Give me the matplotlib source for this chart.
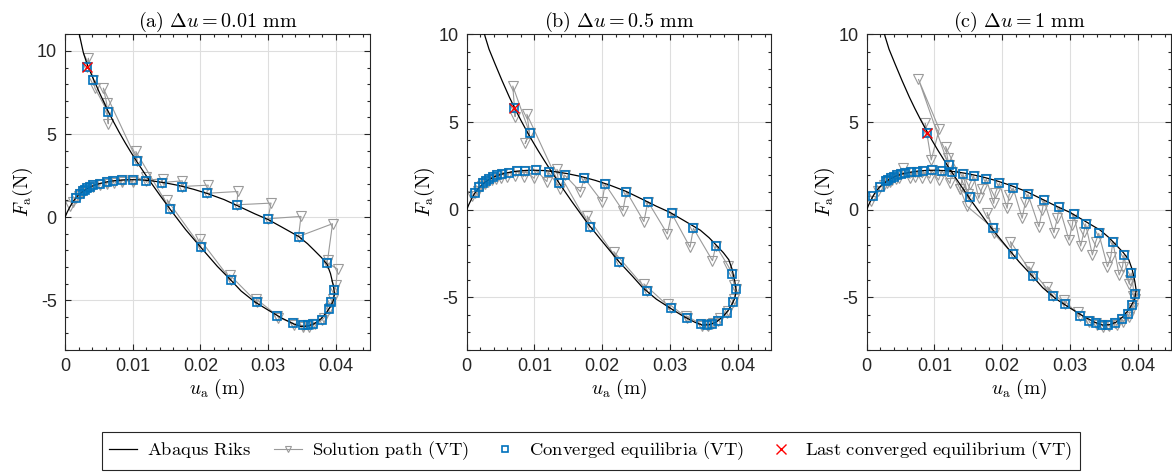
import numpy as np
import matplotlib
matplotlib.use("Agg")
import matplotlib.pyplot as plt
from matplotlib.lines import Line2D
from matplotlib.ticker import MultipleLocator

plt.rcParams['mathtext.fontset'] = 'cm'
plt.rcParams['axes.unicode_minus'] = False

# Abaqus Riks reference curve (u in m, F in N)
riks_u = [0, 0.0003, 0.0007, 0.0012, 0.0018, 0.0025, 0.0033, 0.0042, 0.0052, 0.0063,
          0.0075, 0.0088, 0.0100, 0.0115, 0.0130, 0.0148, 0.0168, 0.0190, 0.0210, 0.0235,
          0.0258, 0.0280, 0.0300, 0.0320, 0.0345, 0.0358, 0.0368, 0.0379, 0.0387, 0.0392,
          0.0396, 0.0398, 0.0396, 0.0392, 0.0386, 0.0378, 0.0368, 0.0358, 0.0348, 0.0337,
          0.0320, 0.0300, 0.0280, 0.0260, 0.0245, 0.0225, 0.0200, 0.0178, 0.0155, 0.0140,
          0.0125, 0.0115, 0.0105, 0.0097, 0.0089, 0.0080, 0.0071, 0.0063, 0.0052, 0.0042,
          0.0033, 0.0027, 0.0020]
riks_F = [0, 0.28, 0.60, 0.95, 1.25, 1.50, 1.72, 1.90, 2.03, 2.13,
          2.20, 2.24, 2.25, 2.23, 2.17, 2.06, 1.90, 1.67, 1.42, 1.05,
          0.62, 0.20, -0.15, -0.60, -1.17, -1.60, -2.00, -2.45, -2.85, -3.40,
          -4.10, -4.60, -5.05, -5.38, -5.75, -6.12, -6.42, -6.56, -6.58, -6.42,
          -6.08, -5.60, -5.10, -4.45, -3.80, -2.97, -1.80, -0.75, 0.48, 1.32,
          2.18, 2.78, 3.40, 3.92, 4.46, 5.10, 5.78, 6.42, 7.38, 8.30,
          9.15, 9.90, 11.20]

# (a) du = 0.01 mm
conv_u_a = [0.00162, 0.00220, 0.00270, 0.00300, 0.00330, 0.00365, 0.00417, 0.00515, 0.00614,
            0.00712, 0.00835, 0.00997, 0.01193, 0.01429, 0.01728, 0.02093, 0.02538, 0.02997,
            0.03448, 0.03868, 0.03973, 0.03932, 0.03893, 0.03795, 0.03662, 0.03584, 0.03510,
            0.03368, 0.03137, 0.02833, 0.02445, 0.02005, 0.01546, 0.01065, 0.00629, 0.00417,
            0.00329]
conv_F_a = [1.12, 1.40, 1.55, 1.64, 1.72, 1.80, 1.92, 2.02, 2.10,
            2.18, 2.24, 2.25, 2.20, 2.08, 1.84, 1.43, 0.74, -0.10,
            -1.17, -2.74, -4.37, -5.11, -5.55, -6.18, -6.46, -6.52, -6.52,
            -6.38, -5.94, -5.13, -3.77, -1.78, 0.50, 3.39, 6.33, 8.26,
            9.06]
path_u_a = [0.00074, 0.00123, 0.00162, 0.00200, 0.00220, 0.00260, 0.00270, 0.00300, 0.00330,
            0.00365, 0.00420, 0.00417, 0.00520, 0.00515, 0.00620, 0.00614, 0.00720, 0.00712,
            0.00840, 0.00835, 0.01000, 0.00997, 0.01202, 0.01193, 0.01447, 0.01429, 0.01732,
            0.01728, 0.02115, 0.02093, 0.02552, 0.02538, 0.03042, 0.02997, 0.03484, 0.03448,
            0.03950, 0.03878, 0.03868, 0.04024, 0.04001, 0.03973, 0.03960, 0.03932, 0.03915,
            0.03893, 0.03830, 0.03795, 0.03690, 0.03662, 0.03600, 0.03584, 0.03520, 0.03510,
            0.03380, 0.03368, 0.03150, 0.03137, 0.02823, 0.02833, 0.02430, 0.02445, 0.01988,
            0.02005, 0.01507, 0.01546, 0.01046, 0.01065, 0.00565, 0.00614, 0.00638, 0.00629,
            0.00442, 0.00417, 0.00344, 0.00329]
path_F_a = [0.64, 0.88, 1.12, 1.25, 1.40, 1.45, 1.55, 1.64, 1.72,
            1.80, 1.80, 1.92, 1.92, 2.02, 2.00, 2.10, 2.06, 2.18,
            2.12, 2.24, 2.12, 2.25, 2.40, 2.20, 2.32, 2.08, 2.18,
            1.84, 1.92, 1.43, 1.54, 0.74, 0.84, -0.10, 0.04, -1.17,
            -0.40, -2.57, -2.74, -3.13, -4.07, -4.37, -4.95, -5.11, -5.45,
            -5.55, -6.05, -6.18, -6.45, -6.46, -6.62, -6.52, -6.62, -6.52,
            -6.50, -6.38, -6.05, -5.94, -4.93, -5.13, -3.47, -3.77, -1.32,
            -1.78, 1.04, 0.50, 3.95, 3.39, 7.76, 6.86, 5.61, 6.33,
            7.76, 8.26, 9.56, 9.06]

# (b) du = 0.5 mm
conv_u_b = [0.00123, 0.00187, 0.00237, 0.00286, 0.00335, 0.00385, 0.00444, 0.00519, 0.00631,
            0.00741, 0.00864, 0.01027, 0.01209, 0.01446, 0.01738, 0.02044, 0.02360, 0.02676,
            0.03027, 0.03348, 0.03679, 0.03920, 0.03975, 0.03926, 0.03842, 0.03718, 0.03630,
            0.03556, 0.03456, 0.03259, 0.03012, 0.02667, 0.02246, 0.01816, 0.01357, 0.00928,
            0.00705]
conv_F_b = [0.93, 1.28, 1.50, 1.65, 1.75, 1.86, 1.96, 2.03, 2.11,
            2.19, 2.22, 2.24, 2.14, 1.98, 1.79, 1.46, 1.03, 0.46,
            -0.21, -1.06, -2.05, -3.66, -4.54, -5.28, -5.90, -6.32, -6.51,
            -6.57, -6.51, -6.19, -5.62, -4.61, -2.96, -1.00, 1.54, 4.39,
            5.81]
path_u_b = [0.00074, 0.00123, 0.00170, 0.00187, 0.00220, 0.00237, 0.00270, 0.00286, 0.00320,
            0.00335, 0.00370, 0.00385, 0.00430, 0.00444, 0.00500, 0.00519, 0.00593, 0.00631,
            0.00720, 0.00741, 0.00839, 0.00864, 0.00997, 0.01027, 0.01185, 0.01209, 0.01382,
            0.01446, 0.01679, 0.01738, 0.02000, 0.02044, 0.02306, 0.02360, 0.02617, 0.02676,
            0.02963, 0.03027, 0.03298, 0.03348, 0.03630, 0.03679, 0.03860, 0.03920, 0.03950,
            0.03975, 0.03950, 0.03926, 0.03860, 0.03842, 0.03740, 0.03718, 0.03640, 0.03630,
            0.03570, 0.03556, 0.03470, 0.03456, 0.03240, 0.03259, 0.02980, 0.03012, 0.02617,
            0.02667, 0.02172, 0.02246, 0.01778, 0.01816, 0.01333, 0.01357, 0.00889, 0.00928,
            0.00864, 0.00928, 0.00681, 0.00716, 0.00705]
path_F_b = [0.80, 0.93, 1.08, 1.28, 1.33, 1.50, 1.47, 1.65, 1.58,
            1.75, 1.68, 1.86, 1.77, 1.96, 1.83, 2.03, 1.88, 2.11,
            1.90, 2.19, 1.88, 2.22, 1.79, 2.24, 1.60, 2.14, 1.20,
            1.98, 1.03, 1.79, 0.46, 1.46, -0.06, 1.03, -0.68, 0.46,
            -1.38, -0.21, -2.14, -1.06, -2.91, -2.05, -3.20, -3.66, -4.30,
            -4.54, -5.10, -5.28, -5.80, -5.90, -6.20, -6.32, -6.45, -6.51,
            -6.62, -6.57, -6.62, -6.51, -6.05, -6.19, -5.35, -5.62, -4.23,
            -4.61, -2.39, -2.96, -0.36, -1.00, 2.30, 1.54, 5.44, 4.39,
            3.78, 4.39, 7.05, 5.30, 5.81]

# (c) du = 1 mm
conv_u_c = [0.00089, 0.00197, 0.00290, 0.00320, 0.00360, 0.00400, 0.00450, 0.00500, 0.00567,
            0.00652, 0.00750, 0.00830, 0.00963, 0.01111, 0.01259, 0.01422, 0.01580, 0.01767,
            0.01960, 0.02163, 0.02382, 0.02617, 0.02844, 0.03056, 0.03232, 0.03427, 0.03635,
            0.03798, 0.03906, 0.03958, 0.03911, 0.03852, 0.03770, 0.03668, 0.03565, 0.03481,
            0.03390, 0.03283, 0.03150, 0.02923, 0.02756, 0.02463, 0.02155, 0.01860, 0.01520,
            0.01209, 0.00889]
conv_F_c = [0.78, 1.28, 1.62, 1.72, 1.80, 1.88, 1.96, 2.02, 2.07,
            2.13, 2.17, 2.19, 2.24, 2.22, 2.15, 2.03, 1.92, 1.75,
            1.50, 1.23, 0.88, 0.55, 0.15, -0.25, -0.81, -1.35, -1.84,
            -2.60, -3.61, -4.78, -5.44, -5.92, -6.24, -6.45, -6.55, -6.55,
            -6.45, -6.32, -6.08, -5.38, -4.94, -3.77, -2.52, -1.03, 0.73,
            2.53, 4.35]
path_u_c = [0.00060, 0.00089, 0.00170, 0.00197, 0.00260, 0.00290, 0.00300, 0.00320, 0.00340,
            0.00360, 0.00380, 0.00400, 0.00430, 0.00450, 0.00480, 0.00500, 0.00543, 0.00567,
            0.00641, 0.00652, 0.00720, 0.00750, 0.00824, 0.00830, 0.00930, 0.00963, 0.01061,
            0.01111, 0.01230, 0.01259, 0.01382, 0.01422, 0.01490, 0.01520, 0.01580, 0.01654,
            0.01700, 0.01767, 0.01876, 0.01900, 0.01960, 0.02074, 0.02103, 0.02163, 0.02296,
            0.02345, 0.02382, 0.02543, 0.02593, 0.02617, 0.02765, 0.02815, 0.02844, 0.02987,
            0.03037, 0.03056, 0.03160, 0.03209, 0.03232, 0.03333, 0.03383, 0.03427, 0.03556,
            0.03605, 0.03635, 0.03728, 0.03778, 0.03798, 0.03876, 0.03890, 0.03906, 0.03960,
            0.03940, 0.03958, 0.03930, 0.03911, 0.03870, 0.03852, 0.03790, 0.03770, 0.03690,
            0.03668, 0.03580, 0.03565, 0.03490, 0.03481, 0.03400, 0.03390, 0.03290, 0.03283,
            0.03120, 0.03150, 0.02913, 0.02923, 0.02667, 0.02756, 0.02394, 0.02463, 0.02123,
            0.02155, 0.01876, 0.01778, 0.01860, 0.01480, 0.01382, 0.01520, 0.01165, 0.01195,
            0.01209, 0.00765, 0.01071, 0.00953, 0.00864, 0.00889]
path_F_c = [0.50, 0.78, 1.05, 1.28, 1.40, 1.62, 1.50, 1.72, 1.60,
            1.80, 1.68, 1.88, 1.75, 1.96, 1.82, 2.02, 2.36, 2.07,
            1.79, 2.13, 1.85, 2.17, 1.82, 2.19, 1.80, 2.24, 1.69,
            2.22, 1.50, 2.15, 1.16, 2.03, 0.90, 1.45, 1.92, 0.65,
            1.20, 1.75, 0.36, 0.95, 1.50, 0.08, 0.84, 1.23, -0.49,
            0.46, 0.88, -0.97, -0.02, 0.55, -1.31, -0.49, 0.15, -1.73,
            -0.87, -0.25, -2.07, -1.25, -0.81, -2.58, -1.82, -1.35, -3.25,
            -2.68, -1.84, -3.72, -3.25, -2.60, -4.23, -4.00, -3.61, -5.10,
            -4.90, -4.78, -5.60, -5.44, -6.10, -5.92, -6.40, -6.24, -6.58,
            -6.45, -6.65, -6.55, -6.68, -6.55, -6.60, -6.45, -6.42, -6.32,
            -5.85, -6.08, -5.15, -5.38, -4.39, -4.94, -3.25, -3.77, -1.82,
            -2.52, -1.35, -0.17, -1.03, 0.20, 1.16, 0.73, 3.60, 2.93,
            2.53, 7.43, 4.60, 2.83, 4.92, 4.35]

titles = [r'$\mathrm{(a)}\ \Delta u = 0.01\ \mathrm{mm}$',
          r'$\mathrm{(b)}\ \Delta u = 0.5\ \mathrm{mm}$',
          r'$\mathrm{(c)}\ \Delta u = 1\ \mathrm{mm}$']
ylims = [(-8, 11), (-8, 10), (-8, 10)]
panels = [(conv_u_a, conv_F_a, path_u_a, path_F_a),
          (conv_u_b, conv_F_b, path_u_b, path_F_b),
          (conv_u_c, conv_F_c, path_u_c, path_F_c)]
lefts = [0.0555, 0.3982, 0.7395]

blue = '#0072BD'
gray = '#9a9a9a'
dark = '#262626'

fig = plt.figure(figsize=(11.72, 4.72), dpi=100)

for i, (cu, cF, pu, pF) in enumerate(panels):
    ax = fig.add_axes([lefts[i], 0.2585, 0.2600, 0.6688])
    ax.plot(pu, pF, '-v', color=gray, lw=0.8, ms=7, mfc='none', mec=gray, mew=0.8, zorder=2)
    ax.plot(riks_u, riks_F, '-', color='black', lw=0.9, zorder=3)
    ax.plot(cu, cF, 's', ms=5.3, mfc='none', mec=blue, mew=1.2, zorder=4)
    ax.plot(cu[-1], cF[-1], 'x', ms=7, color='red', mew=1.0, zorder=5)

    ax.set_xlim(0, 0.045)
    ax.set_ylim(*ylims[i])
    ax.set_xticks([0, 0.01, 0.02, 0.03, 0.04])
    ax.set_xticklabels(['0', '0.01', '0.02', '0.03', '0.04'])
    ax.set_yticks([-5, 0, 5, 10])
    ax.set_yticklabels(['-5', '0', '5', '10'])
    ax.xaxis.set_minor_locator(MultipleLocator(0.002))
    ax.yaxis.set_minor_locator(MultipleLocator(1))
    ax.tick_params(which='both', direction='in', top=True, right=True, colors=dark,
                   labelsize=13, width=0.8)
    ax.tick_params(which='major', length=4.5, pad=6)
    ax.tick_params(which='minor', length=2.5)
    for lab in ax.get_xticklabels() + ax.get_yticklabels():
        lab.set_fontfamily('Liberation Sans')
    ax.grid(True, which='major', color='#dedede', lw=0.8)
    ax.set_axisbelow(True)
    for sp in ax.spines.values():
        sp.set_color(dark)
        sp.set_linewidth(0.8)
    ax.set_title(titles[i], fontsize=14.5, pad=5)
    ax.set_xlabel(r'$u_{\mathrm{a}}\ (\mathrm{m})$', fontsize=14, labelpad=1)
    ax.set_ylabel(r'$F_{\mathrm{a}}(\mathrm{N})$', fontsize=14, labelpad=1)

handles = [
    Line2D([], [], color='black', lw=0.9),
    Line2D([], [], color=gray, lw=0.8, marker='v', ms=5, mfc='none', mec=gray, mew=0.8),
    Line2D([], [], ls='none', marker='s', ms=5, mfc='none', mec=blue, mew=1.2),
    Line2D([], [], ls='none', marker='x', ms=7, color='red', mew=1.0),
]
labels = [r'$\mathrm{Abaqus\ Riks}$',
          r'$\mathrm{Solution\ path\ (VT)}$',
          r'$\mathrm{Converged\ equilibria\ (VT)}$',
          r'$\mathrm{Last\ converged\ equilibrium\ (VT)}$']
leg = fig.legend(handles, labels, loc='center', bbox_to_anchor=(0.504, 0.0445), ncol=4,
                 fontsize=13.4, frameon=True, fancybox=False, framealpha=1,
                 edgecolor=dark, handlelength=1.5, columnspacing=1.2, handletextpad=0.55,
                 borderpad=0.4)
leg.get_frame().set_linewidth(0.8)

fig.savefig('out.png', dpi=100)
